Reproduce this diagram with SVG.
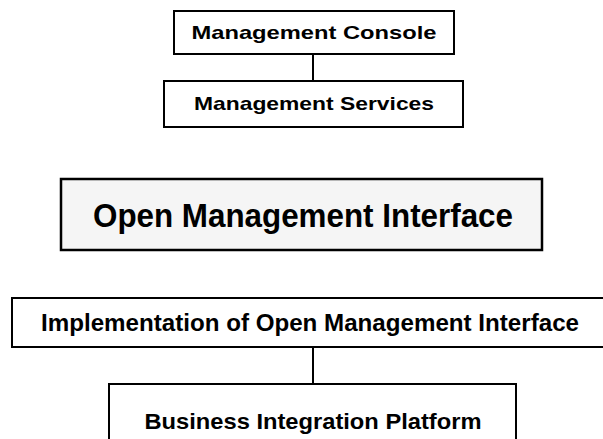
<svg xmlns="http://www.w3.org/2000/svg" width="603" height="439" viewBox="0 0 603 439">
<style>
.box{fill:#ffffff;stroke:#000000;stroke-width:2}
.gray{fill:#f5f5f5;stroke-width:2.5}
.t{font-family:"Liberation Sans",Arial,sans-serif;font-weight:bold;fill:#000000;text-anchor:middle}
.conn{stroke:#000000;stroke-width:2;fill:none}
</style>
<rect width="603" height="439" fill="#ffffff"/>
<g id="connectors">
<line class="conn" x1="313" y1="54" x2="313" y2="81"/>
<line class="conn" x1="313" y1="347" x2="313" y2="384"/>
</g>
<g id="management-console">
<rect class="box" x="174" y="11" width="280" height="43"/>
<text class="t" x="314" y="39" font-size="19" textLength="245" lengthAdjust="spacingAndGlyphs">Management Console</text>
</g>
<g id="management-services">
<rect class="box" x="164" y="81" width="299" height="46"/>
<text class="t" x="314" y="110" font-size="19" textLength="240" lengthAdjust="spacingAndGlyphs">Management Services</text>
</g>
<g id="open-management-interface">
<rect class="box gray" x="61" y="179" width="481" height="71"/>
<text class="t" x="303" y="227" font-size="34" textLength="420" lengthAdjust="spacingAndGlyphs">Open Management Interface</text>
</g>
<g id="implementation">
<rect class="box" x="12" y="298" width="600" height="49"/>
<text class="t" x="310" y="331" font-size="23" textLength="538" lengthAdjust="spacingAndGlyphs">Implementation of Open Management Interface</text>
</g>
<g id="business-integration-platform">
<rect class="box" x="109" y="384" width="407" height="60"/>
<text class="t" x="313" y="429" font-size="22" textLength="337" lengthAdjust="spacingAndGlyphs">Business Integration Platform</text>
</g>
</svg>
